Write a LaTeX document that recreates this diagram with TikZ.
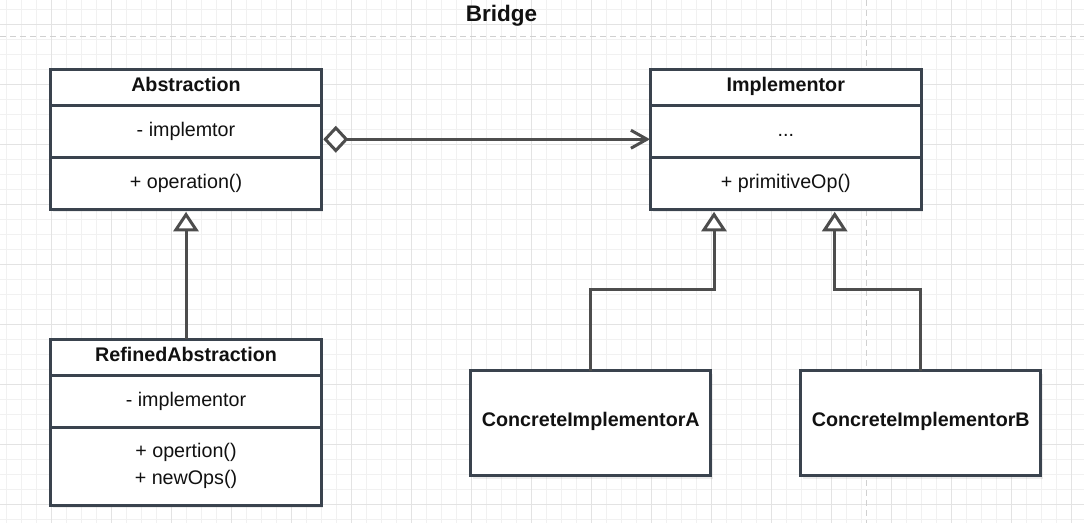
\documentclass[tikz,border=0pt]{standalone}
\usepackage{fontspec}
\setmainfont{Liberation Sans}
\usetikzlibrary{arrows.meta,shadows}
\definecolor{boxc}{HTML}{3A434E}
\definecolor{linec}{HTML}{4D4D4D}
\definecolor{gridmin}{HTML}{F1F1F1}
\definecolor{gridmaj}{HTML}{E3E3E3}
\definecolor{pagec}{HTML}{D0D0D0}
\definecolor{txtc}{HTML}{111111}
\begin{document}
\begin{tikzpicture}[x=1pt,y=-1pt,
  cls/.style={draw=boxc, line width=3pt, fill=white, inner sep=0pt, outer sep=0pt,
    drop shadow={shadow xshift=2pt, shadow yshift=-3pt, opacity=0.14}},
  comp/.style={draw=boxc, line width=3pt, fill=white, inner sep=0pt, outer sep=0pt, minimum width=270.6pt},
  lbl/.style={anchor=base, inner sep=0pt, text=txtc, font=\fontsize{19.7}{24}\selectfont},
  hd/.style={lbl, font=\fontsize{19.7}{24}\selectfont\bfseries},
  conn/.style={draw=linec, line width=3pt},
  inh/.style={conn, -{Triangle[open, fill=white, length=19.5pt, width=25pt, line width=3pt]}, shorten >=2.5pt},
  agg/.style={conn, {Diamond[open, fill=white, length=25pt, width=27pt, line width=3pt]}-{Straight Barb[length=16pt, width=18pt, line width=3pt]}, shorten <=2pt, shorten >=0.5pt},
  pageline/.style={draw=pagec, line width=1pt, dash pattern=on 6pt off 4pt}
]
\useasboundingbox (0,0) rectangle (1084,523);
\fill[white] (0,0) rectangle (1084,523);
% grid
\foreach \x in {6.7,21.7,...,1084} \draw[gridmin, line width=1pt] (\x,0) -- (\x,523);
\foreach \y in {9.3,24.3,...,523} \draw[gridmin, line width=1pt] (0,\y) -- (1084,\y);
\foreach \x in {51.7,111.7,...,1084} \draw[gridmaj, line width=1pt] (\x,0) -- (\x,523);
\foreach \y in {24.3,84.3,...,523} \draw[gridmaj, line width=1pt] (0,\y) -- (1084,\y);
% page break lines
\draw[pageline] (0,36.2) -- (1084,36.2);
\draw[pageline] (866.7,0) -- (866.7,523);

% title
\node[anchor=base, inner sep=0pt, text=txtc, font=\fontsize{22.5}{27}\selectfont\bfseries] (title) at (501.5,21.7) {Bridge};

% Abstraction
\node[cls, minimum width=270.6pt, minimum height=140pt] (abs) at (186,139.3) {};
\node[comp, minimum height=35.8pt] (absH) at (186,87.2) {};
\node[comp, minimum height=52.3pt] (absA) at (186,131.15) {};
\node[comp, minimum height=52pt] (absO) at (186,183.3) {};
\node[hd] (absHt) at (186,91.7) {Abstraction};
\node[lbl] (absAt) at (186,136) {- implemtor};
\node[lbl] (absOt) at (186,188.3) {+ operation()};

% Implementor
\node[cls, minimum width=270.6pt, minimum height=140pt] (imp) at (785.8,139.3) {};
\node[comp, minimum height=35.8pt] (impH) at (785.8,87.2) {};
\node[comp, minimum height=52.3pt] (impA) at (785.8,131.15) {};
\node[comp, minimum height=52pt] (impO) at (785.8,183.3) {};
\node[hd] (impHt) at (785.8,91.7) {Implementor};
\node[lbl] (impAt) at (785.8,136) {...};
\node[lbl] (impOt) at (785.8,188.3) {+ primitiveOp()};

% RefinedAbstraction
\node[cls, minimum width=270.6pt, minimum height=166pt] (ref) at (186,422.3) {};
\node[comp, minimum height=36pt] (refH) at (186,357.3) {};
\node[comp, minimum height=52.4pt] (refA) at (186,401.5) {};
\node[comp, minimum height=77.6pt] (refO) at (186,466.5) {};
\node[hd] (refHt) at (186,361.7) {RefinedAbstraction};
\node[lbl] (refAt) at (186,406) {- implementor};
\node[lbl] (refO1) at (186,457.7) {+ opertion()};
\node[lbl] (refO2) at (186,484.3) {+ newOps()};

% Concrete implementors
\node[cls, minimum width=240.3pt, minimum height=105pt] (cA) at (590.8,423.2) {};
\node[hd] (cAt) at (590.8,426.7) {ConcreteImplementorA};
\node[cls, minimum width=240.3pt, minimum height=105pt] (cB) at (920.8,423.2) {};
\node[hd] (cBt) at (920.8,426.7) {ConcreteImplementorB};

% connectors
\draw[agg] ([yshift=-8.1pt]absA.east) -- ([yshift=-8.1pt]impA.west);
\draw[inh] (ref.north) -- (abs.south);
\draw[inh] (cA.north) |- ([xshift=-71.8pt,yshift=-80pt]imp.south) -- ([xshift=-71.8pt]imp.south);
\draw[inh] (cB.north) |- ([xshift=48.9pt,yshift=-80pt]imp.south) -- ([xshift=48.9pt]imp.south);
\end{tikzpicture}
\end{document}
